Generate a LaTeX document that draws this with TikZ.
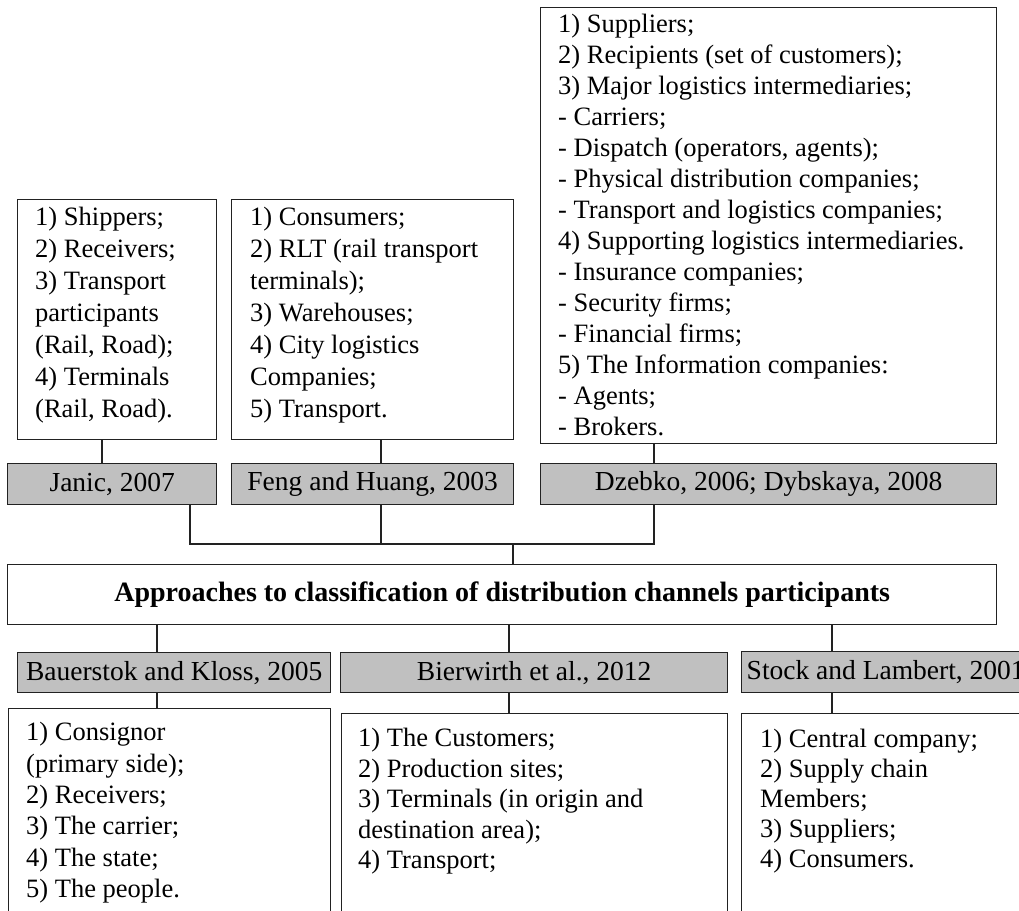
\documentclass[tikz,border=0pt]{standalone}
\usepackage{fontspec}
\setmainfont{Liberation Serif}
\usetikzlibrary{positioning}

\definecolor{framec}{HTML}{222222}
\definecolor{refgray}{HTML}{C0C0C0}

\begin{document}
\begin{tikzpicture}[x=1pt, y=-1pt,
  frame/.style={draw=framec, line width=1.4pt, anchor=north west, inner sep=0pt},
  reflabel/.style={frame, fill=refgray, font=\fontsize{27.5}{31}\selectfont},
  items/.style={anchor=north west, align=left, inner sep=0pt, font=\fontsize{26.5}{#1}\selectfont},
  items/.default=31,
  conn/.style={draw=framec, line width=1.4pt}]

\useasboundingbox (0,0) rectangle (1019,910);
\clip (0,0) rectangle (1019,910);

% upper lists
\node[frame, minimum width=199pt, minimum height=240pt] (jlist) at (17,199) {};
\node[frame, minimum width=282pt, minimum height=240pt] (flist) at (231,199) {};
\node[frame, minimum width=456pt, minimum height=436pt] (dlist) at (540,7) {};

\node[items=32, below right=8pt and 18pt of jlist.north west] (jtxt)
  {1) Shippers;\\2) Receivers;\\3) Transport\\participants\\(Rail, Road);\\4) Terminals\\(Rail, Road).};
\node[items=32, below right=8pt and 19pt of flist.north west] (ftxt)
  {1) Consumers;\\2) RLT (rail transport\\terminals);\\3) Warehouses;\\4) City logistics\\Companies;\\5) Transport.};
\node[items=31, below right=7pt and 18pt of dlist.north west] (dtxt)
  {1) Suppliers;\\2) Recipients (set of customers);\\3) Major logistics intermediaries;\\- Carriers;\\
   - Dispatch (operators, agents);\\- Physical distribution companies;\\- Transport and logistics companies;\\
   4) Supporting logistics intermediaries.\\- Insurance companies;\\- Security firms;\\- Financial firms;\\
   5) The Information companies:\\- Agents;\\- Brokers.};

% upper references
\node[reflabel, minimum width=209pt, minimum height=41pt] (jref) at (7,463) {Janic, 2007};
\node[reflabel, minimum width=282pt, minimum height=41pt] (fref) at (231,463) {Feng and Huang, 2003};
\node[reflabel, minimum width=456pt, minimum height=41pt] (dref) at (540,463) {Dzebko, 2006; Dybskaya, 2008};

% main
\node[frame, minimum width=989pt, minimum height=60pt, font=\fontsize{28}{31}\selectfont\bfseries] (main) at (7,564)
  {Approaches to classification of distribution channels participants};

% lower references
\node[reflabel, minimum width=313pt, minimum height=40pt] (bref) at (17,652) {Bauerstok and Kloss, 2005};
\node[reflabel, minimum width=387pt, minimum height=40pt] (bwref) at (340,652) {Bierwirth et al., 2012};
\node[reflabel, minimum width=288pt, minimum height=41pt] (sref) at (741,651) {Stock and Lambert, 2001};

% lower lists
\node[frame, minimum width=322pt, minimum height=240pt] (blist) at (8,708) {};
\node[frame, minimum width=386pt, minimum height=230pt] (bwlist) at (341,713) {};
\node[frame, minimum width=288pt, minimum height=230pt] (slist) at (741,713) {};

\node[items=31.4, below right=14pt and 18pt of blist.north west] (btxt)
  {1) Consignor\\(primary side);\\2) Receivers;\\3) The carrier;\\4) The state;\\5) The people.};
\node[items=30.5, below right=15pt and 17pt of bwlist.north west] (bwtxt)
  {1) The Customers;\\2) Production sites;\\3) Terminals (in origin and\\destination area);\\4) Transport;};
\node[items=30, below right=16pt and 19pt of slist.north west] (stxt)
  {1) Central company;\\2) Supply chain\\Members;\\3) Suppliers;\\4) Consumers.};

% connectors
\coordinate (bus) at (0,544);
\coordinate (jx) at (102,0);
\coordinate (fx) at (381,0);
\coordinate (dx) at (654,0);
\coordinate (jd) at (190,0);
\coordinate (trunk) at (513,0);
\coordinate (bx) at (157,0);
\coordinate (bwx) at (509,0);
\coordinate (sx) at (832,0);

\draw[conn] (jlist.south -| jx) -- (jref.north -| jx);
\draw[conn] (flist.south -| fx) -- (fref.north -| fx);
\draw[conn] (dlist.south -| dx) -- (dref.north -| dx);
\draw[conn] (jref.south -| jd) |- (bus -| dx) -- (dref.south -| dx);
\draw[conn] (fref.south -| fx) -- (bus -| fx);
\draw[conn] (bus -| trunk) -- (main.north -| trunk);
\draw[conn] (main.south -| bx) -- (bref.north -| bx);
\draw[conn] (main.south -| bwx) -- (bwref.north -| bwx);
\draw[conn] (main.south -| sx) -- (sref.north -| sx);
\draw[conn] (bref.south -| bx) -- (blist.north -| bx);
\draw[conn] (bwref.south -| bwx) -- (bwlist.north -| bwx);
\draw[conn] (sref.south -| sx) -- (slist.north -| sx);
\end{tikzpicture}
\end{document}
